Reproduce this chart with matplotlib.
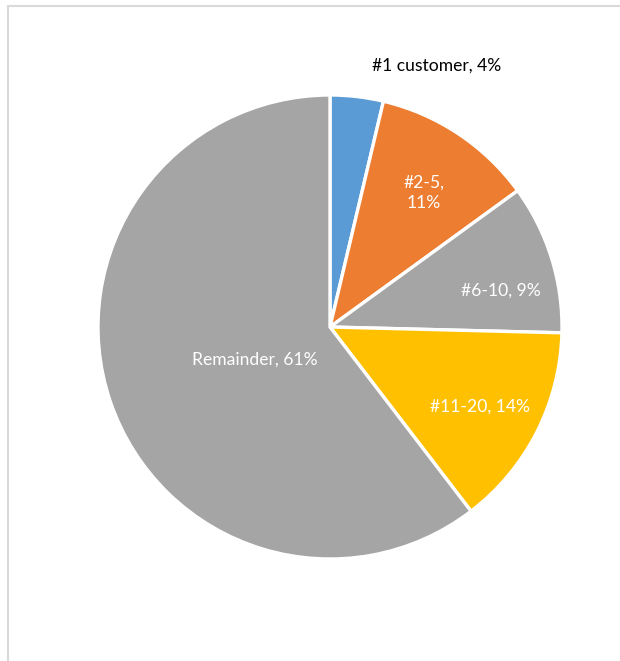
import numpy as np
import matplotlib.pyplot as plt
from matplotlib.patches import Rectangle

# datos del grafico
labels = ['#1 customer, 4%', '#2-5,\n11%', '#6-10, 9%', '#11-20, 14%', 'Remainder, 61%']
sizes  = [3.7, 11.3, 10.4, 14.2, 60.4]
colors = ['#5B9BD5', '#ED7D31', '#A5A5A5', '#FFC000', '#A5A5A5']
txtcol = ['black', 'white', 'white', 'white', 'white']
# posiciones de las etiquetas (unidades del radio)
lab_x  = [0.461, 0.405, 0.737, 0.647, -0.323]
lab_y  = [1.125, 0.578, 0.155, -0.345, -0.142]

plt.rcParams['font.family'] = ['Lato', 'DejaVu Sans']

fig = plt.figure(figsize=[6.2, 6.61], dpi=100)
ax = fig.add_axes([(330-232)/620, 1-(327+232)/661, 464/620, 464/661])
ax.pie(sizes, colors=colors, startangle=90, counterclock=False, radius=1.0,
       wedgeprops=dict(edgecolor='white', linewidth=2.4))
ax.set_xlim(-1, 1)
ax.set_ylim(-1, 1)
ax.set_aspect('equal')
ax.axis('off')

for i in range(len(labels)):
    ax.text(lab_x[i], lab_y[i], labels[i], color=txtcol[i], fontsize=12.6,
            ha='center', va='center', linespacing=1.3, clip_on=False)

# marco del area del grafico
fig.add_artist(Rectangle((7.5/620, -0.1), 1.2, 1 - 5.5/661 + 0.1, transform=fig.transFigure,
                         fill=False, edgecolor='#D9D9D9', linewidth=1.5))

fig.savefig('out.png', dpi=100)
